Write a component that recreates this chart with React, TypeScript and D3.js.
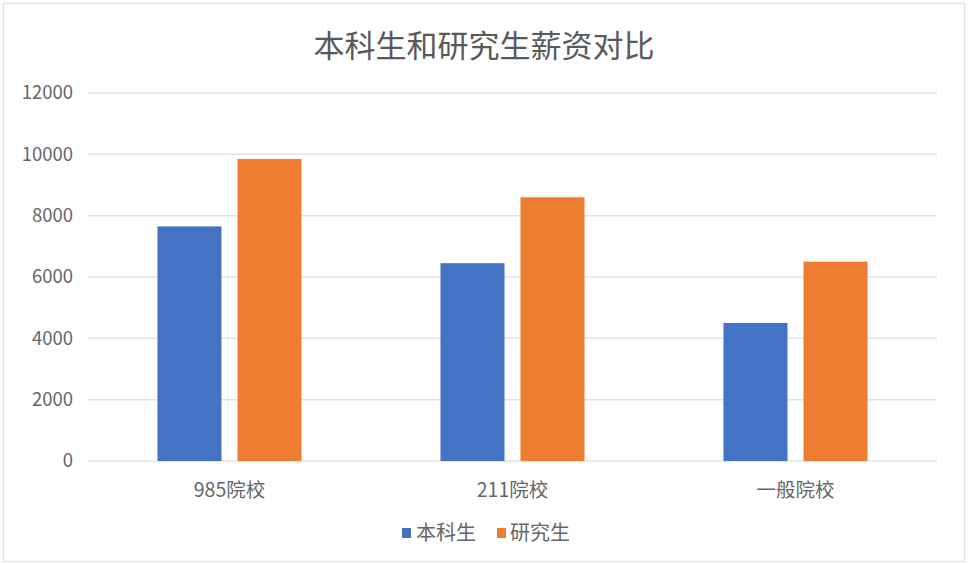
import React from 'react';
import * as d3 from 'd3';

// 数据
const categories = ['985院校', '211院校', '一般院校'];
const seriesNames = ['本科生', '研究生'];
const undergrad = [7650, 6450, 4500];
const graduate = [9850, 8600, 6500];
const yTicks = [0, 2000, 4000, 6000, 8000, 10000, 12000];
const colors = ['#4472C4', '#ED7D31'];

const W = 968;
const H = 564;
const margin = { top: 93, right: 31, bottom: 103, left: 88 };
const FONT = '"Noto Sans CJK SC", "Noto Sans", sans-serif';

const App: React.FC = () => {
  const innerW = W - margin.left - margin.right;
  const innerH = H - margin.top - margin.bottom;

  const x0 = d3.scaleBand<string>()
    .domain(categories)
    .range([0, innerW])
    .paddingInner(0.491)
    .paddingOuter(0.2455);

  const x1 = d3.scaleBand<string>()
    .domain(seriesNames)
    .range([0, x0.bandwidth()])
    .paddingInner(0.2);

  const y = d3.scaleLinear().domain([0, 12000]).range([innerH, 0]);

  const values = [undergrad, graduate];

  return (
    <div style={{ position: 'absolute', left: 0, top: 0 }}>
      <svg width={W} height={H} style={{ display: 'block', fontFamily: FONT }}>
        <rect x={0} y={0} width={W} height={H} fill="#ffffff" />
        <rect x={3.5} y={3.5} width={W - 7} height={H - 6} fill="none" stroke="#e3e3e3" strokeWidth={1.5} />

        {/* 标题 */}
        <text x={W / 2} y={57} textAnchor="middle" fontSize={31} fill="#595959">
          本科生和研究生薪资对比
        </text>

        <g transform={`translate(${margin.left},${margin.top})`}>
          {/* 网格线 */}
          {yTicks.map(t => (
            <g key={t}>
              <line x1={0} x2={innerW} y1={y(t)} y2={y(t)} stroke="#e2e2e2" strokeWidth={1.5} />
              <text x={-15} y={y(t)} dy="0.35em" textAnchor="end" fontSize={18.5} fill="#666666">
                {t}
              </text>
            </g>
          ))}

          {/* 柱子 */}
          {categories.map((c, i) => (
            <g key={c} transform={`translate(${x0(c)},0)`}>
              {seriesNames.map((s, j) => (
                <rect
                  key={s}
                  x={x1(s)}
                  y={y(values[j][i])}
                  width={x1.bandwidth()}
                  height={innerH - y(values[j][i])}
                  fill={colors[j]}
                />
              ))}
            </g>
          ))}

          {/* 横轴标签 */}
          {categories.map(c => (
            <text
              key={c}
              x={(x0(c) ?? 0) + x0.bandwidth() / 2}
              y={innerH + 36}
              textAnchor="middle"
              fontSize={19.5}
              fill="#666666"
            >
              {c}
            </text>
          ))}
        </g>

        {/* 图例 */}
        <g transform="translate(402,533)">
          <rect x={0} y={-5} width={9} height={10} fill={colors[0]} />
          <text x={14} y={0} dy="0.35em" fontSize={20} fill="#666666">{seriesNames[0]}</text>
          <rect x={95} y={-5} width={9} height={10} fill={colors[1]} />
          <text x={108} y={0} dy="0.35em" fontSize={20} fill="#666666">{seriesNames[1]}</text>
        </g>
      </svg>
    </div>
  );
};

export default App;
